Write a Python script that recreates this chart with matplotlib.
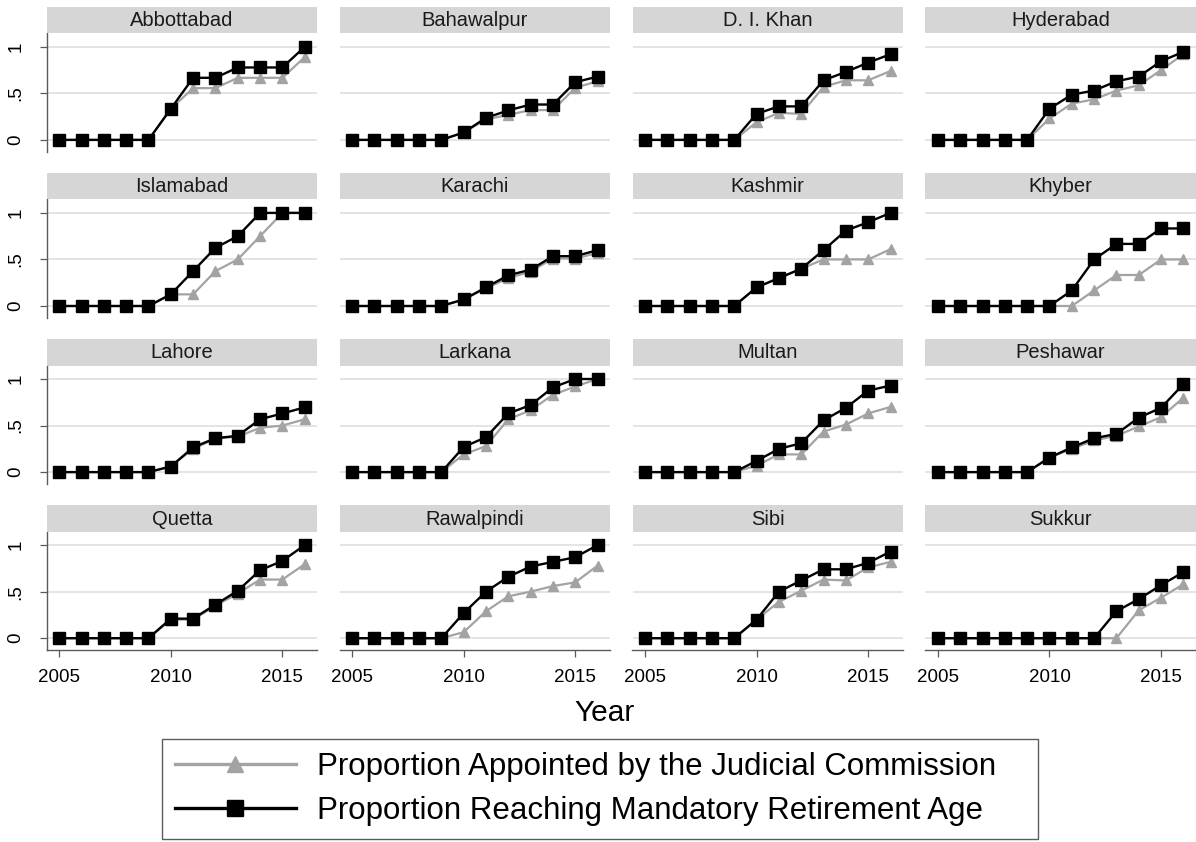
import matplotlib
matplotlib.use("Agg")
import matplotlib.pyplot as plt
from matplotlib.lines import Line2D
from matplotlib.patches import Rectangle

plt.rcParams['font.family'] = ['Liberation Sans', 'DejaVu Sans']

years = list(range(2005, 2017))

districts = ["Abbottabad", "Bahawalpur", "D. I. Khan", "Hyderabad",
             "Islamabad", "Karachi", "Kashmir", "Khyber",
             "Lahore", "Larkana", "Multan", "Peshawar",
             "Quetta", "Rawalpindi", "Sibi", "Sukkur"]

# Proportion Appointed by the Judicial Commission (grey, triangles)
abbottabad_jc = [0, 0, 0, 0, 0, 0.333, 0.556, 0.556, 0.667, 0.667, 0.667, 0.889]
bahawalpur_jc = [0, 0, 0, 0, 0, 0.08, 0.22, 0.27, 0.32, 0.32, 0.56, 0.63]
dikhan_jc     = [0, 0, 0, 0, 0, 0.19, 0.29, 0.28, 0.57, 0.64, 0.64, 0.74]
hyderabad_jc  = [0, 0, 0, 0, 0, 0.23, 0.39, 0.435, 0.53, 0.586, 0.75, 0.92]
islamabad_jc  = [0, 0, 0, 0, 0, 0.125, 0.125, 0.375, 0.5, 0.75, 1.0, 1.0]
karachi_jc    = [0, 0, 0, 0, 0, 0.07, 0.19, 0.30, 0.37, 0.51, 0.51, 0.57]
kashmir_jc    = [0, 0, 0, 0, 0, 0.2, 0.3, 0.4, 0.5, 0.5, 0.5, 0.61]
khyber_jc     = [0, 0, 0, 0, 0, 0, 0, 0.167, 0.333, 0.333, 0.5, 0.5]
lahore_jc     = [0, 0, 0, 0, 0, 0.06, 0.25, 0.36, 0.38, 0.476, 0.5, 0.567]
larkana_jc    = [0, 0, 0, 0, 0, 0.19, 0.28, 0.567, 0.665, 0.83, 0.92, 1.0]
multan_jc     = [0, 0, 0, 0, 0, 0.07, 0.19, 0.19, 0.436, 0.51, 0.63, 0.7]
peshawar_jc   = [0, 0, 0, 0, 0, 0.156, 0.25, 0.34, 0.39, 0.49, 0.59, 0.8]
quetta_jc     = [0, 0, 0, 0, 0, 0.2, 0.2, 0.35, 0.48, 0.63, 0.63, 0.795]
rawalpindi_jc = [0, 0, 0, 0, 0, 0.065, 0.29, 0.45, 0.5, 0.56, 0.6, 0.78]
sibi_jc       = [0, 0, 0, 0, 0, 0.2, 0.39, 0.51, 0.63, 0.62, 0.76, 0.82]
sukkur_jc     = [0, 0, 0, 0, 0, 0, 0, 0, 0, 0.3, 0.435, 0.58]

# Proportion Reaching Mandatory Retirement Age (black, squares)
abbottabad_ret = [0, 0, 0, 0, 0, 0.333, 0.667, 0.667, 0.778, 0.778, 0.778, 1.0]
bahawalpur_ret = [0, 0, 0, 0, 0, 0.08, 0.237, 0.317, 0.38, 0.38, 0.62, 0.68]
dikhan_ret     = [0, 0, 0, 0, 0, 0.28, 0.36, 0.36, 0.64, 0.73, 0.83, 0.92]
hyderabad_ret  = [0, 0, 0, 0, 0, 0.335, 0.486, 0.53, 0.63, 0.68, 0.845, 0.946]
islamabad_ret  = [0, 0, 0, 0, 0, 0.125, 0.375, 0.625, 0.75, 1.0, 1.0, 1.0]
karachi_ret    = [0, 0, 0, 0, 0, 0.07, 0.2, 0.33, 0.39, 0.535, 0.535, 0.6]
kashmir_ret    = [0, 0, 0, 0, 0, 0.2, 0.3, 0.4, 0.6, 0.81, 0.9, 1.0]
khyber_ret     = [0, 0, 0, 0, 0, 0, 0.167, 0.5, 0.667, 0.667, 0.833, 0.833]
lahore_ret     = [0, 0, 0, 0, 0, 0.06, 0.265, 0.364, 0.39, 0.567, 0.63, 0.695]
larkana_ret    = [0, 0, 0, 0, 0, 0.27, 0.375, 0.63, 0.72, 0.91, 1.0, 1.0]
multan_ret     = [0, 0, 0, 0, 0, 0.12, 0.25, 0.31, 0.556, 0.69, 0.875, 0.93]
peshawar_ret   = [0, 0, 0, 0, 0, 0.156, 0.265, 0.364, 0.41, 0.585, 0.69, 0.945]
quetta_ret     = [0, 0, 0, 0, 0, 0.21, 0.21, 0.36, 0.51, 0.73, 0.83, 1.0]
rawalpindi_ret = [0, 0, 0, 0, 0, 0.27, 0.5, 0.66, 0.77, 0.82, 0.87, 1.0]
sibi_ret       = [0, 0, 0, 0, 0, 0.2, 0.5, 0.62, 0.74, 0.74, 0.81, 0.93]
sukkur_ret     = [0, 0, 0, 0, 0, 0, 0, 0, 0.29, 0.42, 0.57, 0.71]

jc_series = [abbottabad_jc, bahawalpur_jc, dikhan_jc, hyderabad_jc,
             islamabad_jc, karachi_jc, kashmir_jc, khyber_jc,
             lahore_jc, larkana_jc, multan_jc, peshawar_jc,
             quetta_jc, rawalpindi_jc, sibi_jc, sukkur_jc]
ret_series = [abbottabad_ret, bahawalpur_ret, dikhan_ret, hyderabad_ret,
              islamabad_ret, karachi_ret, kashmir_ret, khyber_ret,
              lahore_ret, larkana_ret, multan_ret, peshawar_ret,
              quetta_ret, rawalpindi_ret, sibi_ret, sukkur_ret]

y_ticks = [0, 0.5, 1]
y_ticklabels = ["0", ".5", "1"]
x_ticks = [2005, 2010, 2015]
x_ticklabels = ["2005", "2010", "2015"]

legend_labels = ["Proportion Appointed by the Judicial Commission",
                 "Proportion Reaching Mandatory Retirement Age"]
x_title = "Year"

W, H = 1196, 842
fig = plt.figure(figsize=(W / 100, H / 100), dpi=100)
fig.patch.set_facecolor("white")

GREY = "#a3a3a3"
HEADER = "#d6d6d6"
GRID = "#e4e4e4"
AXC = "#5a5a5a"

col_left0, col_pitch, panel_w = 46.7, 292.9, 270.5
plot_top0, plot_bot0, row_pitch = 33.3, 152.0, 166.1
head_top0 = 6.7

for i, name in enumerate(districts):
    r, c = divmod(i, 4)
    left = col_left0 + col_pitch * c
    ptop = plot_top0 + row_pitch * r
    pbot = plot_bot0 + row_pitch * r
    htop = head_top0 + row_pitch * r
    ax = fig.add_axes([left / W, 1 - pbot / H, panel_w / W, (pbot - ptop) / H])
    ax.set_xlim(2004.44, 2016.56)
    ax.set_ylim(-0.13, 1.145)
    for s in ax.spines.values():
        s.set_visible(False)
    for yv in y_ticks:
        ax.axhline(yv, color=GRID, lw=1.4, zorder=0)
    ax.plot(years, jc_series[i], color=GREY, lw=1.6, marker="^", ms=7.8,
            markeredgecolor=GREY, markerfacecolor=GREY, zorder=2, clip_on=False)
    ax.plot(years, ret_series[i], color="black", lw=1.7, marker="s", ms=8.0,
            markeredgecolor="black", markerfacecolor="black", zorder=3, clip_on=False)

    if c == 0:
        ax.spines["left"].set_visible(True)
        ax.spines["left"].set_color(AXC)
        ax.spines["left"].set_linewidth(1.0)
        ax.set_yticks(y_ticks)
        ax.set_yticklabels(y_ticklabels, rotation=90, va="center")
        ax.tick_params(axis="y", length=5, width=0.9, color=AXC, labelsize=13.5, pad=11)
    else:
        ax.set_yticks([])
    if r == 3:
        ax.spines["bottom"].set_visible(True)
        ax.spines["bottom"].set_color(AXC)
        ax.spines["bottom"].set_linewidth(1.0)
        ax.set_xticks(x_ticks)
        ax.set_xticklabels(x_ticklabels)
        ax.tick_params(axis="x", length=5, width=0.9, color=AXC, labelsize=13.5, pad=8.5)
    else:
        ax.set_xticks([])

    hax = fig.add_axes([left / W, 1 - ptop / H, panel_w / W, (ptop - htop) / H])
    hax.set_xlim(0, 1)
    hax.set_ylim(0, 1)
    hax.axis("off")
    hax.add_patch(Rectangle((0, 0), 1, 1, facecolor=HEADER, edgecolor="none",
                            transform=hax.transAxes))
    hax.text(0.5, 0.47, name, ha="center", va="center", fontsize=14.5, color="#1a1a1a")

fig.text(605 / W, 1 - 713 / H, x_title, ha="center", va="center", fontsize=21.5)

handles = [
    Line2D([], [], color=GREY, lw=2.4, marker="^", ms=12, markerfacecolor=GREY,
           markeredgecolor=GREY),
    Line2D([], [], color="black", lw=2.4, marker="s", ms=12, markerfacecolor="black",
           markeredgecolor="black"),
]
box_l, box_r, box_t, box_b = 162, 1038, 740, 838
leg = fig.legend(handles, legend_labels, loc="center", mode="expand",
                 bbox_to_anchor=(box_l / W, 1 - box_b / H, (box_r - box_l) / W,
                                 (box_b - box_t) / H),
                 fontsize=22.5, frameon=True, fancybox=False, handlelength=3.9,
                 handletextpad=0.65, labelspacing=0.45, borderpad=0.4,
                 borderaxespad=0)
leg.get_frame().set_edgecolor("#333333")
leg.get_frame().set_linewidth(1.0)

fig.savefig("out.png", dpi=100, facecolor="white")
